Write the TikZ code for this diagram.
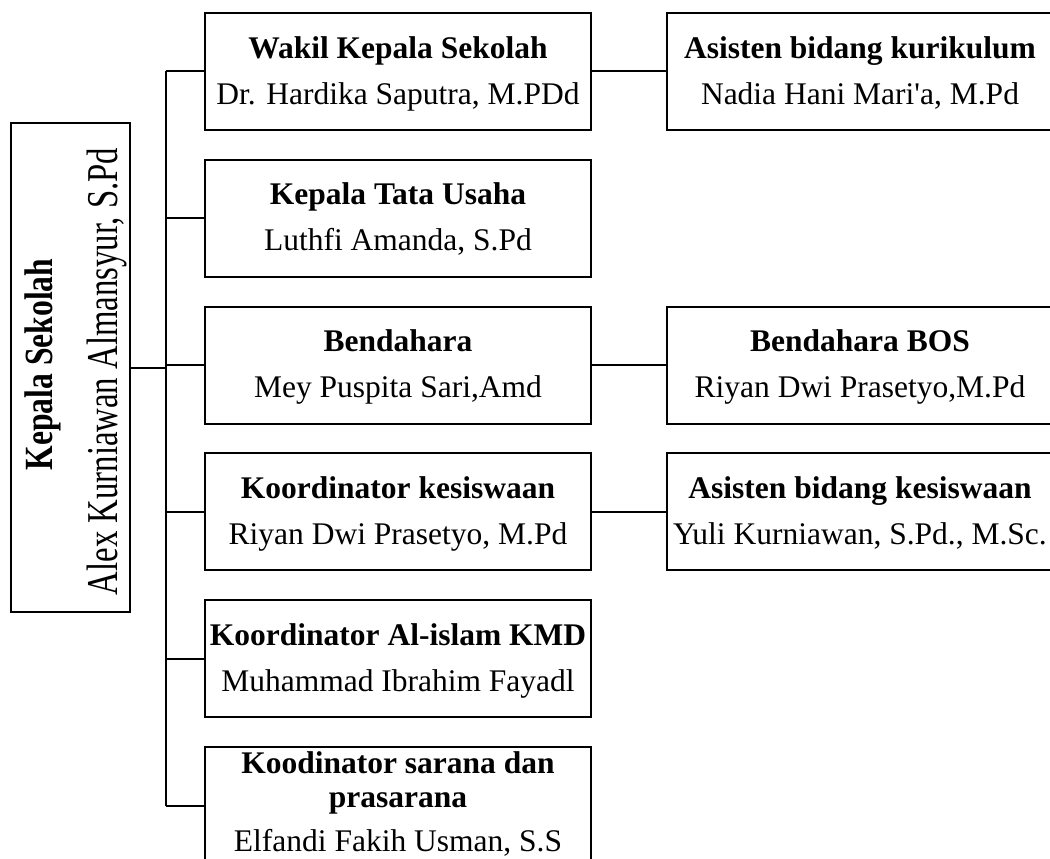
\documentclass[tikz,border=0pt]{standalone}
\usepackage{fontspec}
\setmainfont{Liberation Serif}
\newfontfamily\plainserif{Liberation Serif}[Ligatures=TeXOff]
\usepackage{graphicx}
\newcommand{\ent}[2]{\rule{0pt}{26pt}\textbf{#1}\\#2\rule[-7pt]{0pt}{7pt}}
\begin{document}
\begin{tikzpicture}[x=1pt,y=-1pt,
  line width=2pt,
  box/.style={draw,rectangle,minimum width=386,minimum height=117,inner sep=0pt,align=center,
    font=\fontsize{31.5}{46}\selectfont},
  conn/.style={draw,line width=2pt}]
\useasboundingbox (0,0) rectangle (1050,859);
\clip (0,0) rectangle (1050,859);
% head box
\node[draw,rectangle,minimum width=119,minimum height=489,inner sep=0pt] (kep) at (70.5,367.5) {};
\node[rotate=90,anchor=base,inner sep=0pt] (kept) at (52,364.5)
  {\scalebox{0.79}[1]{\fontsize{40}{48}\selectfont\bfseries Kepala Sekolah}};
\node[rotate=90,anchor=base,inner sep=0pt] (kepn) at (117,371.5)
  {\scalebox{0.745}[1]{\fontsize{44}{52}\selectfont Alex Kurniawan Almansyur, S.Pd}};
% middle column
\node[box] (b1) at (398,71.5) {\ent{Wakil Kepala Sekolah}{Dr. Hardika Saputra, M.PDd}};
\node[box] (b2) at (398,218.3) {\ent{Kepala Tata Usaha}{Luthfi Amanda, S.Pd}};
\node[box] (b3) at (398,365.1) {\ent{Bendahara}{Mey Puspita Sari,Amd}};
\node[box] (b4) at (398,511.9) {\ent{Koordinator kesiswaan}{Riyan Dwi Prasetyo, M.Pd}};
\node[box] (b5) at (398,658.7) {\ent{Koordinator Al-islam KMD}{Muhammad Ibrahim Fayadl}};
\node[box] (b6) at (398,805.5) {};
\node[anchor=north,inner sep=0pt,align=center,font=\fontsize{31.5}{34}\selectfont] (t6) at (b6.north)
  {\rule{0pt}{26pt}\textbf{Koodinator sarana dan}\\\textbf{prasarana}\\[10pt]Elfandi Fakih Usman, S.S};
% right column
\node[box] (r1) at (860,71.5) {\ent{Asisten bidang kurikulum}{Nadia Hani Mari{\plainserif'}a, M.Pd}};
\node[box] (r3) at (860,365.1) {\ent{Bendahara BOS}{Riyan Dwi Prasetyo,M.Pd}};
\node[box] (r4) at (860,511.9) {\ent{Asisten bidang kesiswaan}{Yuli Kurniawan, S.Pd., M.Sc.}};
% trunk
\coordinate (t1) at (166,71.5);
\coordinate (tn) at (166,805.5);
\draw[conn] (t1) -- (tn);
\draw[conn] (kep.east) -- (kep.east -| t1);
\foreach \b in {b1,b2,b3,b4,b5,b6}{
  \draw[conn] (\b.west -| t1) -- (\b.west);
}
\draw[conn] (b1.east) -- (r1.west);
\draw[conn] (b3.east) -- (r3.west);
\draw[conn] (b4.east) -- (r4.west);
\end{tikzpicture}
\end{document}
